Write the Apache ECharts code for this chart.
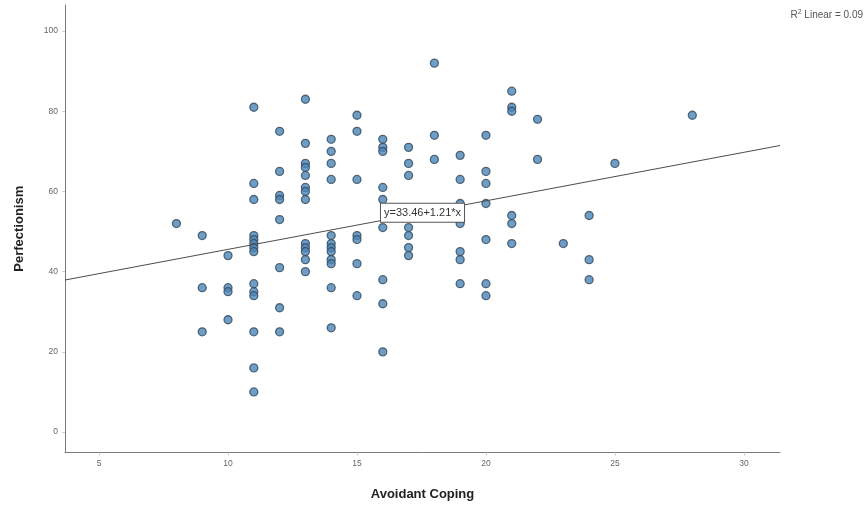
<!DOCTYPE html>
<html>
<head>
<meta charset="utf-8">
<script src="https://cdn.jsdelivr.net/npm/echarts@6/dist/echarts.min.js"></script>
<style>
  html, body { margin: 0; padding: 0; background: #ffffff; }
  #chart { width: 864px; height: 506px; }
</style>
</head>
<body>
<div id="chart"></div>
<script>
// Avoidant coping (x) and perfectionism (y) scores, one entry per respondent
const copingScores = [
  8,
  9, 9, 9,
  10, 10, 10, 10,
  11, 11, 11, 11, 11, 11, 11, 11, 11, 11, 11, 11, 11, 11,
  12, 12, 12, 12, 12, 12, 12, 12,
  13, 13, 13, 13, 13, 13, 13, 13, 13, 13, 13, 13, 13,
  14, 14, 14, 14, 14, 14, 14, 14, 14, 14, 14, 14,
  15, 15, 15, 15, 15, 15, 15,
  16, 16, 16, 16, 16, 16, 16, 16, 16,
  17, 17, 17, 17, 17, 17, 17,
  18, 18, 18,
  19, 19, 19, 19, 19, 19, 19,
  20, 20, 20, 20, 20, 20, 20,
  21, 21, 21, 21, 21, 21,
  22, 22,
  23,
  24, 24, 24,
  25,
  28
];
const perfectionismScores = [
  52,
  49, 36, 25,
  44, 36, 35, 28,
  81, 62, 58, 49, 48, 47, 46, 45, 37, 35, 34, 25, 16, 10,
  75, 65, 59, 58, 53, 41, 31, 25,
  83, 72, 67, 66, 64, 61, 60, 58, 47, 46, 45, 43, 40,
  73, 70, 67, 63, 49, 47, 46, 45, 43, 42, 36, 26,
  79, 75, 63, 49, 48, 42, 34,
  73, 71, 70, 61, 58, 51, 38, 32, 20,
  71, 67, 64, 51, 49, 46, 44,
  92, 74, 68,
  69, 63, 57, 52, 45, 43, 37,
  74, 65, 62, 57, 48, 37, 34,
  85, 81, 80, 54, 52, 47,
  78, 68,
  47,
  54, 43, 38,
  67,
  79
];

// Fitted linear model and its fit statistic
const fitIntercept = 33.46;
const fitSlope = 1.21;
const rSquaredText = '0.09';

// Tick label values
const xTickValues = [5, 10, 15, 20, 25, 30];
const yTickValues = [0, 20, 40, 60, 80, 100];

// Axis extents
const xMin = 3.68, xMax = 31.4;
const yMin = -5.1, yMax = 106.5;

const points = copingScores.map((c, i) => [c, perfectionismScores[i]]);
const fitAt = x => fitIntercept + fitSlope * x;
const xMid = (xMin + xMax) / 2;
const equationText = 'y=' + fitIntercept.toFixed(2) + '+' + fitSlope.toFixed(2) + '*x';
const fitLine = [
  [xMin, fitAt(xMin)],
  {
    value: [xMid, fitAt(xMid)],
    label: {
      show: true,
      position: 'inside',
      formatter: equationText
    }
  },
  [xMax, fitAt(xMax)]
];

const FONT = '"Liberation Sans", Arial, sans-serif';

const chart = echarts.init(document.getElementById('chart'), null, { renderer: 'canvas' });
chart.setOption({
  backgroundColor: '#ffffff',
  animation: false,
  grid: { left: 65, right: 84, top: 5, bottom: 53.5 },
  xAxis: {
    type: 'value',
    min: xMin,
    max: xMax,
    name: 'Avoidant Coping',
    nameLocation: 'middle',
    nameGap: 35,
    nameTextStyle: { fontFamily: FONT, fontSize: 13, fontWeight: 'bold', color: '#222' },
    axisLine: { show: true, onZero: false, lineStyle: { color: '#7a7a7a', width: 1 } },
    axisTick: { show: true, length: 3, customValues: xTickValues, lineStyle: { color: '#cfcfcf' } },
    axisLabel: { customValues: xTickValues, fontFamily: FONT, fontSize: 8.5, color: '#666', margin: 7 },
    splitLine: { show: false }
  },
  yAxis: {
    type: 'value',
    min: yMin,
    max: yMax,
    name: 'Perfectionism',
    nameLocation: 'middle',
    nameRotate: 90,
    nameGap: 39,
    nameTextStyle: { fontFamily: FONT, fontSize: 13, fontWeight: 'bold', color: '#222' },
    axisLine: { show: true, onZero: false, lineStyle: { color: '#7a7a7a', width: 1 } },
    axisTick: { show: true, length: 3, customValues: yTickValues, lineStyle: { color: '#cfcfcf' } },
    axisLabel: { customValues: yTickValues, fontFamily: FONT, fontSize: 8.5, color: '#666', margin: 7 },
    splitLine: { show: false }
  },
  graphic: [
    {
      type: 'text',
      right: 1,
      top: 9,
      style: {
        text: 'R{sup|2} Linear = ' + rSquaredText,
        fontFamily: FONT,
        fontSize: 10,
        fill: '#555',
        rich: { sup: { fontSize: 7, verticalAlign: 'top', padding: [0, 0, 5, 0], fill: '#555' } }
      }
    }
  ],
  series: [
    {
      type: 'scatter',
      data: points,
      symbol: 'circle',
      symbolSize: 8,
      z: 2,
      itemStyle: { color: '#4a84b6', borderColor: '#36495c', borderWidth: 1.3 }
    },
    {
      type: 'line',
      data: fitLine,
      symbol: 'circle',
      symbolSize: 0,
      showSymbol: true,
      showAllSymbol: true,
      lineStyle: { color: '#4d4d4d', width: 1 },
      itemStyle: { opacity: 0 },
      z: 5,
      label: {
        show: false,
        fontFamily: FONT,
        fontSize: 11,
        color: '#333',
        opacity: 1,
        backgroundColor: '#ffffff',
        borderColor: '#555',
        borderWidth: 1,
        padding: [4, 3, 3, 3]
      }
    }
  ]
});
</script>
</body>
</html>
